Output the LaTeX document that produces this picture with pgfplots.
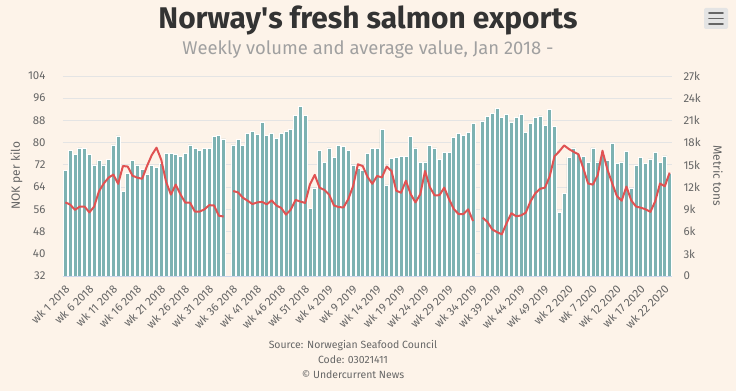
\documentclass[border=0pt]{standalone}
\usepackage{pgfplots}
\pgfplotsset{compat=1.18}
\usepackage{pgfplotstable}
\usepackage{fontspec}
\setmainfont{Fira Sans}
\definecolor{bg}{RGB}{253,243,233}
\definecolor{barc}{RGB}{125,178,178}
\definecolor{linec}{RGB}{224,82,82}
\definecolor{gridc}{RGB}{228,228,228}
\definecolor{axc}{RGB}{204,214,235}
\definecolor{tickc}{RGB}{102,102,102}
\definecolor{titlec}{RGB}{51,51,51}
\definecolor{subc}{RGB}{160,160,160}

\pgfplotstableread{
wk vol price
1 14.2 58.5
2 16.9 57.7
3 16.4 55.8
4 17.3 57.0
5 17.2 57.0
6 16.4 54.9
7 14.9 57.0
8 15.6 62.5
9 15.0 65.3
10 15.7 67.4
11 17.7 68.5
12 18.9 65.2
13 11.4 71.6
14 13.8 71.4
15 15.6 68.1
16 14.9 67.4
17 14.4 67.0
18 13.7 71.5
19 14.9 75.5
20 14.7 78.2
21 15.2 73.8
22 16.6 65.9
23 16.6 61.3
24 16.4 64.9
25 16.1 61.4
26 16.6 58.4
27 17.7 58.4
28 17.2 55.2
29 17.0 55.2
30 17.2 56.0
31 17.2 57.5
32 18.8 57.4
33 19.0 53.7
34 18.5 53.4
35 nan nan
36 17.7 62.6
37 18.4 62.1
38 17.6 60.2
39 19.2 59.1
40 19.5 57.9
41 19.1 58.5
42 20.7 58.7
43 19.0 57.8
44 19.2 59.2
45 18.6 57.4
46 19.2 56.5
47 19.5 54.1
48 19.8 55.9
49 21.7 59.4
50 22.9 58.8
51 21.7 58.3
52 9.1 65.0
53 11.9 68.4
54 16.9 63.8
55 15.3 63.0
56 17.3 61.3
57 16.0 57.4
58 17.6 56.8
59 17.5 56.7
60 16.9 59.7
61 15.0 64.4
62 14.5 72.2
63 14.3 71.6
64 16.5 67.7
65 17.2 65.2
66 17.2 68.0
67 19.8 67.5
68 12.3 71.4
69 15.9 69.8
70 16.0 62.7
71 16.1 62.0
72 16.1 66.3
73 18.8 61.5
74 17.3 58.5
75 15.3 61.4
76 15.4 69.8
77 17.6 64.0
78 17.3 61.0
79 15.7 61.1
80 16.7 63.8
81 16.7 59.7
82 18.7 56.1
83 19.2 54.3
84 19.0 54.3
85 19.4 56.0
86 20.6 51.8
87 nan nan
88 20.9 53.0
89 21.5 51.5
90 21.9 48.8
91 22.6 47.8
92 21.4 47.0
93 21.8 51.0
94 20.8 54.6
95 21.4 53.5
96 21.8 53.8
97 19.4 54.8
98 20.6 58.9
99 21.4 61.8
100 21.6 63.4
101 20.3 63.8
102 22.5 67.9
103 20.2 75.1
104 8.6 76.9
105 11.1 79.0
106 16.0 77.7
107 17.3 76.7
108 16.4 75.8
109 16.1 70.8
110 15.3 65.3
111 17.3 64.9
112 15.4 68.3
113 16.5 77.1
114 15.6 70.5
115 17.9 65.5
116 15.2 60.8
117 15.4 59.1
118 16.8 64.2
119 11.8 59.2
120 14.9 57.0
121 16.0 56.6
122 15.2 56.0
123 15.8 55.1
124 16.7 58.9
125 15.3 65.3
126 16.2 64.3
127 13.8 69.2
}\data

\begin{document}
\begin{tikzpicture}
\fill[bg] (0,0) rectangle (736bp,391bp);
\path[use as bounding box] (0,0) rectangle (736bp,391bp);

\pgfplotsset{
  base/.style={
    at={(63bp,115bp)}, anchor=south west,
    scale only axis, width=609bp, height=200bp,
    xmin=0.5, xmax=127.5,
    major tick length=0pt,
    /pgf/number format/assume math mode=true,
    tick label style={text=tickc, font=\fontsize{11.5}{13}\selectfont},
  }
}

% volume bars (right axis)
\begin{axis}[base,
  ymin=0, ymax=27,
  ytick={0,3,...,27},
  yticklabels={0,3k,6k,9k,12k,15k,18k,21k,24k,27k},
  axis y line*=right,
  axis x line*=bottom,
  y axis line style={draw=none},
  x axis line style={draw=axc, line width=0.8bp},
  ymajorgrids, grid style={draw=gridc, line width=0.8bp},
  yticklabel style={anchor=west, xshift=8bp},
  xtick={1,6,...,126},
  xticklabels={wk 1 2018,wk 6 2018,wk 11 2018,wk 16 2018,wk 21 2018,wk 26 2018,wk 31 2018,wk 36 2018,wk 41 2018,wk 46 2018,wk 51 2018,wk 4 2019,wk 9 2019,wk 14 2019,wk 19 2019,wk 24 2019,wk 29 2019,wk 34 2019,wk 39 2019,wk 44 2019,wk 49 2019,wk 2 2020,wk 7 2020,wk 12 2020,wk 17 2020,wk 22 2020},
  xticklabel style={font=\fontsize{11.5}{13}\selectfont, xshift=2bp, yshift=-11bp, rotate=45, anchor=east, inner sep=0pt},
]
\addplot[ybar, bar width=4.0bp, fill=barc, draw=white, line width=0.7bp] table[x=wk, y=vol] {\data};
\end{axis}

% price line (left axis)
\begin{axis}[base,
  ymin=32, ymax=104,
  ytick={32,40,...,104},
  axis y line*=left,
  hide x axis,
  y axis line style={draw=none},
  yticklabel style={anchor=east, xshift=-14bp},
  unbounded coords=jump,
]
\addplot[linec, line width=2bp, line join=round, mark=none] table[x=wk, y=price] {\data};
\end{axis}

\node[text=tickc, font=\fontsize{12}{14}\selectfont, rotate=90] at (16.5bp,215bp) {NOK per kilo};
\node[text=tickc, font=\fontsize{12}{14}\selectfont, rotate=-90] at (718bp,215bp) {Metric tons};

\node[text=titlec, font=\fontsize{30}{34}\selectfont\bfseries] at (368bp,371bp) {Norway\textquotesingle s fresh salmon exports};
\node[text=subc, font=\fontsize{18.5}{22}\selectfont] at (368bp,341bp) {Weekly volume and average value, Jan 2018 -};

\node[text=tickc, font=\fontsize{10.5}{12}\selectfont] at (353bp,45bp) {Source: Norwegian Seafood Council};
\node[text=tickc, font=\fontsize{10.5}{12}\selectfont] at (353bp,31bp) {Code: 03021411};
\node[text=tickc, font=\fontsize{10.5}{12}\selectfont] at (353bp,16bp) {© Undercurrent News};

% menu icon
\fill[rounded corners=2bp, fill=gridc] (704bp,362bp) rectangle (728bp,383bp);
\foreach \yy in {367,372.5,378} {
  \draw[tickc, line width=1.6bp, line cap=round] (709bp,\yy bp) -- (723bp,\yy bp);
}
\end{tikzpicture}
\end{document}
